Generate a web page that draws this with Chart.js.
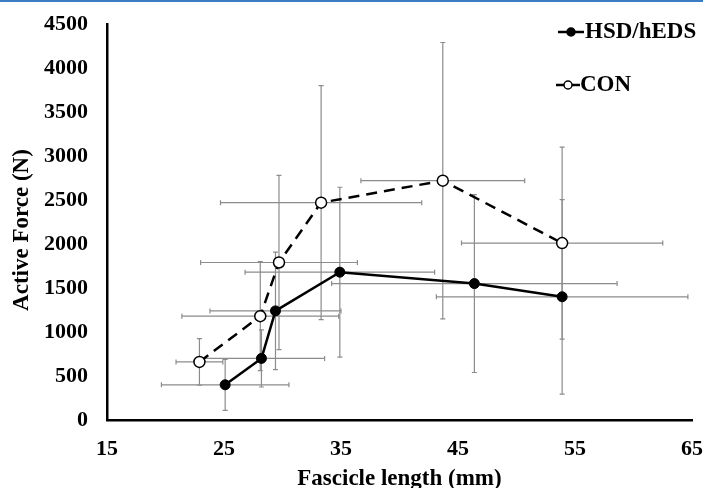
<!DOCTYPE html>
<html>
<head>
<meta charset="utf-8">
<script src="https://cdn.jsdelivr.net/npm/chart.js@4.4.1/dist/chart.umd.min.js"></script>
<style>
  html, body { margin: 0; padding: 0; background: #fff; }
  #wrap { position: relative; width: 703px; height: 488px; overflow: hidden; }
  #topRule { position: absolute; left: 0; top: 0; width: 703px; height: 2px; background: #3b7cc4; }
</style>
</head>
<body>
<div id="wrap">
  <canvas id="chart" width="703" height="488"></canvas>
  <div id="topRule"></div>
</div>
<script>
// values (mean ± SD)
const hsdLength = [25.1, 28.2, 29.4, 34.9, 46.4, 53.9];
const hsdForce = [400, 700, 1240, 1680, 1550, 1400];
const hsdLengthSD = [5.45, 5.4, 5.6, 8.1, 12.2, 10.75];
const hsdForceSD = [290, 325, 668, 965, 1010, 1105];

const conLength = [22.9, 28.1, 29.7, 33.3, 43.7, 53.9];
const conForce = [660, 1180, 1790, 2470, 2720, 2010];
const conLengthSD = [2.0, 6.7, 6.7, 8.6, 7.0, 8.6];
const conForceSD = [265, 620, 990, 1330, 1570, 1090];

const seriesNames = ['HSD/hEDS', 'CON'];
const xTicks = [15, 25, 35, 45, 55, 65];
const yTicks = [0, 500, 1000, 1500, 2000, 2500, 3000, 3500, 4000, 4500];
const yTitle = 'Active Force (N)';

const SERIF = '"Liberation Serif", "Times New Roman", serif';
const toPoints = (xs, ys) => xs.map((v, i) => ({ x: v, y: ys[i] }));
const errors = [
  { xs: hsdLengthSD, ys: hsdForceSD },
  { xs: conLengthSD, ys: conForceSD }
];

const errorBars = {
  id: 'errorBars',
  beforeDatasetsDraw(chart) {
    const { ctx, scales: { x, y } } = chart;
    const cap = 2.5;
    ctx.save();
    ctx.strokeStyle = '#8c8c8c';
    ctx.lineWidth = 1.2;
    chart.data.datasets.forEach((ds, d) => {
      ds.data.forEach((p, i) => {
        const px = x.getPixelForValue(p.x), py = y.getPixelForValue(p.y);
        const x0 = x.getPixelForValue(p.x - errors[d].xs[i]);
        const x1 = x.getPixelForValue(p.x + errors[d].xs[i]);
        const y0 = y.getPixelForValue(p.y - errors[d].ys[i]);
        const y1 = y.getPixelForValue(p.y + errors[d].ys[i]);
        ctx.beginPath();
        ctx.moveTo(x0, py); ctx.lineTo(x1, py);
        ctx.moveTo(x0, py - cap); ctx.lineTo(x0, py + cap);
        ctx.moveTo(x1, py - cap); ctx.lineTo(x1, py + cap);
        ctx.moveTo(px, y0); ctx.lineTo(px, y1);
        ctx.moveTo(px - cap, y0); ctx.lineTo(px + cap, y0);
        ctx.moveTo(px - cap, y1); ctx.lineTo(px + cap, y1);
        ctx.stroke();
      });
    });
    ctx.restore();
  }
};

// legend at top right and the y title, which sits a bit below the plot centre
const sideLegend = {
  id: 'sideLegend',
  afterDraw(chart) {
    const ctx = chart.ctx;
    const rows = [
      { y: 32, x0: 558, x1: 584, dot: 571, text: 585, fill: '#000' },
      { y: 85, x0: 556, x1: 580, dot: 568, text: 580, fill: '#fff' }
    ];
    ctx.save();
    ctx.font = 'bold 23px ' + SERIF;
    ctx.textBaseline = 'middle';
    rows.forEach((r, i) => {
      ctx.strokeStyle = '#000';
      ctx.lineWidth = 2.5;
      ctx.beginPath();
      ctx.moveTo(r.x0, r.y); ctx.lineTo(r.x1, r.y);
      ctx.stroke();
      ctx.beginPath();
      ctx.arc(r.dot, r.y, 4, 0, Math.PI * 2);
      ctx.fillStyle = r.fill;
      ctx.fill();
      ctx.lineWidth = 1.5;
      ctx.stroke();
      ctx.fillStyle = '#000';
      ctx.textAlign = 'left';
      ctx.fillText(seriesNames[i], r.text, r.y);
    });
    ctx.translate(22, 230);
    ctx.rotate(-Math.PI / 2);
    ctx.textAlign = 'center';
    ctx.fillText(yTitle, 0, 0);
    ctx.restore();
  }
};

new Chart(document.getElementById('chart'), {
  type: 'scatter',
  data: {
    datasets: [
      {
        label: seriesNames[0],
        data: toPoints(hsdLength, hsdForce),
        showLine: true,
        borderColor: '#000',
        borderWidth: 2.5,
        pointRadius: 5,
        pointBackgroundColor: '#000',
        pointBorderColor: '#000',
        pointBorderWidth: 1
      },
      {
        label: seriesNames[1],
        data: toPoints(conLength, conForce),
        showLine: true,
        borderColor: '#000',
        borderWidth: 2.5,
        borderDash: [11, 7],
        pointRadius: 5.5,
        pointBackgroundColor: '#fff',
        pointBorderColor: '#000',
        pointBorderWidth: 1.5
      }
    ]
  },
  options: {
    responsive: false,
    animation: false,
    layout: { padding: { top: 24, right: 11, left: 0, bottom: 0 } },
    plugins: { legend: { display: false }, tooltip: { enabled: false } },
    scales: {
      x: {
        type: 'linear', min: 15, max: 65,
        afterBuildTicks: s => { s.ticks = xTicks.map(v => ({ value: v })); },
        afterFit: s => { s.height = 68; s.paddingLeft = 0; s.paddingRight = 0; },
        grid: { display: false, drawTicks: false },
        border: { display: true, color: '#000', width: 2.5 },
        ticks: {
          color: '#000', padding: 16, callback: v => String(v),
          font: { family: SERIF, weight: 'bold', size: 22 }
        },
        title: {
          display: true, text: 'Fascicle length (mm)', color: '#000',
          font: { family: SERIF, weight: 'bold', size: 23, lineHeight: 1 },
          padding: { top: 0, bottom: -2.5 }
        }
      },
      y: {
        type: 'linear', min: 0, max: 4500,
        afterBuildTicks: s => { s.ticks = yTicks.map(v => ({ value: v })); },
        afterFit: s => { s.width = 107; s.paddingTop = 0; s.paddingBottom = 0; },
        grid: { display: false, drawTicks: false },
        border: { display: true, color: '#000', width: 2.5 },
        ticks: {
          color: '#000', padding: 19, callback: v => String(v),
          font: { family: SERIF, weight: 'bold', size: 22 }
        },
        title: { display: false }
      }
    }
  },
  plugins: [errorBars, sideLegend]
});
</script>
</body>
</html>
